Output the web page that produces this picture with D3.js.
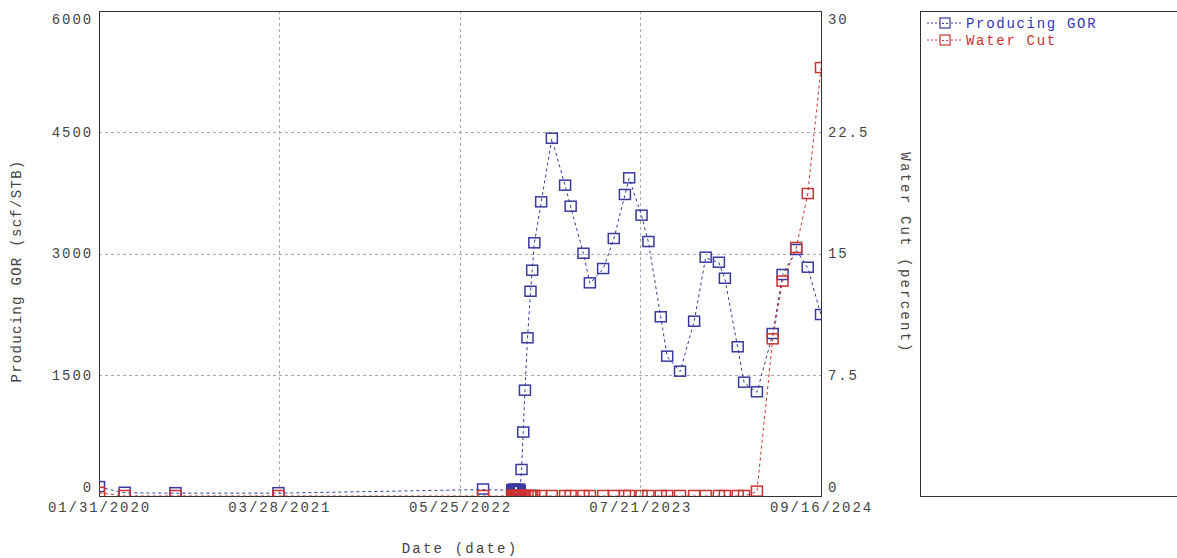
<!DOCTYPE html>
<html>
<head>
<meta charset="utf-8">
<script src="https://cdn.jsdelivr.net/npm/d3@7"></script>
<style>
  body { margin: 0; background: #fff; }
  text { font-family: "Liberation Mono", "Courier New", monospace; }
</style>
</head>
<body>
<div id="chart"></div>
<script>
// dates shared by both series
const dates = [
  "2020-01-31", "2020-03-31", "2020-07-28", "2021-03-26", "2022-07-18",
  "2022-09-24", "2022-09-26", "2022-09-28", "2022-09-30", "2022-10-02",
  "2022-10-04", "2022-10-06", "2022-10-08", "2022-10-10", "2022-10-12",
  "2022-10-16", "2022-10-20", "2022-10-24", "2022-10-30", "2022-11-06",
  "2022-11-10", "2022-11-15", "2022-12-01", "2022-12-26", "2023-01-26",
  "2023-02-08", "2023-03-10", "2023-03-25", "2023-04-25", "2023-05-20",
  "2023-06-15", "2023-06-25", "2023-07-24", "2023-08-09", "2023-09-07",
  "2023-09-22", "2023-10-22", "2023-11-24", "2023-12-21", "2024-01-21",
  "2024-02-04", "2024-03-05", "2024-03-20", "2024-04-19", "2024-05-26",
  "2024-06-18", "2024-07-20", "2024-08-16", "2024-09-16"
];
// producing GOR, scf/STB
const gor = [
  110, 40, 35, 35, 80,
  70, 55, 80, 60, 75, 50, 70, 60, 80, 65,
  322, 785, 1303, 1951, 2527,
  2787, 3126, 3633, 4420, 3839,
  3579, 2997, 2631, 2808, 3179,
  3724, 3930, 3468, 3142, 2211,
  1724, 1538, 2156, 2948, 2886,
  2688, 1840, 1402, 1283, 2004,
  2734, 3043, 2824, 2239
];
// water cut, percent
const waterCut = [
  0.2, 0, 0, 0, 0,
  0, 0, 0, 0, 0, 0, 0, 0, 0, 0,
  0, 0, 0, 0, 0,
  0, 0, 0, 0, 0,
  0, 0, 0, 0, 0,
  0, 0, 0, 0, 0,
  0, 0, 0, 0, 0,
  0, 0, 0, 0.27, 9.69,
  13.26, 15.34, 18.68, 26.47
];
const xTickLabels = ["01/31/2020", "03/28/2021", "05/25/2022", "07/21/2023", "09/16/2024"];
const leftTicks = [0, 1500, 3000, 4500, 6000];
const rightTicks = [0, 7.5, 15, 22.5, 30];
const seriesNames = ["Producing GOR", "Water Cut"];
const colors = ["#3a3a9e", "#cc3333"];
const textColors = ["#3535b5", "#cc3333"];

const width = 1177, height = 558;
const plot = { left: 99, right: 821, top: 11, bottom: 496 };

const parseDay = d3.timeParse("%Y-%m-%d");
const parseTick = d3.timeParse("%m/%d/%Y");

const svg = d3.select("#chart").append("svg")
    .attr("width", width)
    .attr("height", height);

const x = d3.scaleTime()
    .domain([parseTick(xTickLabels[0]), parseTick(xTickLabels[xTickLabels.length - 1])])
    .range([plot.left, plot.right]);
const yL = d3.scaleLinear().domain([0, 6000]).range([plot.bottom, plot.top]);
const yR = d3.scaleLinear().domain([0, 30]).range([plot.bottom, plot.top]);

svg.append("clipPath").attr("id", "clip")
  .append("rect")
    .attr("x", plot.left).attr("y", plot.top)
    .attr("width", plot.right - plot.left).attr("height", plot.bottom - plot.top);

// grid
const grid = svg.append("g")
    .attr("stroke", "#a8a8a8")
    .attr("stroke-dasharray", "3,3")
    .attr("stroke-width", 1);
xTickLabels.slice(1, -1).forEach(function(t) {
  const px = Math.round(x(parseTick(t))) + 0.5;
  grid.append("line").attr("x1", px).attr("x2", px).attr("y1", plot.top).attr("y2", plot.bottom);
});
leftTicks.slice(1, -1).forEach(function(t) {
  const py = Math.round(yL(t)) + 0.5;
  grid.append("line").attr("x1", plot.left).attr("x2", plot.right).attr("y1", py).attr("y2", py);
});

// axes
const axisStyle = function(g) {
  g.select(".domain").remove();
  g.selectAll("text")
    .attr("fill", "#444")
    .style("font-size", "14px")
    .style("letter-spacing", "1.9px");
};
svg.append("g")
    .attr("transform", `translate(${plot.left},0)`)
    .call(d3.axisLeft(yL).tickValues(leftTicks).tickSize(0).tickPadding(6).tickFormat(d3.format("d")))
    .call(axisStyle)
    .selectAll("text")
    .attr("dy", function(d) { return d === 6000 ? "0.9em" : d === 0 ? "-0.3em" : "0.32em"; });

svg.append("g")
    .attr("transform", `translate(${plot.right},0)`)
    .call(d3.axisRight(yR).tickValues(rightTicks).tickSize(0).tickPadding(7).tickFormat(function(d) { return String(d); }))
    .call(axisStyle)
    .selectAll("text")
    .attr("dy", function(d) { return d === 30 ? "0.9em" : d === 0 ? "-0.3em" : "0.32em"; });

svg.append("g")
    .attr("transform", `translate(0,${plot.bottom})`)
    .call(d3.axisBottom(x).tickValues(xTickLabels.map(parseTick)).tickSize(0).tickPadding(6).tickFormat(d3.timeFormat("%m/%d/%Y")))
    .call(axisStyle);

// frame
svg.append("rect")
    .attr("x", plot.left + 0.5).attr("y", plot.top + 0.5)
    .attr("width", plot.right - plot.left).attr("height", plot.bottom - plot.top)
    .attr("fill", "none").attr("stroke", "#333");

// axis titles
svg.append("text")
    .attr("transform", `translate(21,271) rotate(-90)`)
    .attr("text-anchor", "middle")
    .attr("fill", "#444")
    .style("font-size", "14px").style("letter-spacing", "1.3px")
    .text("Producing GOR (scf/STB)");
svg.append("text")
    .attr("transform", `translate(901,253) rotate(90)`)
    .attr("text-anchor", "middle")
    .attr("fill", "#444")
    .style("font-size", "14px").style("letter-spacing", "2.2px")
    .text("Water Cut (percent)");
svg.append("text")
    .attr("x", 460).attr("y", 553)
    .attr("text-anchor", "middle")
    .attr("fill", "#444")
    .style("font-size", "14px").style("letter-spacing", "2.2px")
    .text("Date (date)");

// series
const series = [
  { name: seriesNames[0], values: gor, y: yL, color: colors[0] },
  { name: seriesNames[1], values: waterCut, y: yR, color: colors[1] }
];
const area = svg.append("g").attr("clip-path", "url(#clip)");
const box = 11;

series.forEach(function(s) {
  const pts = dates.map(function(d, i) { return { date: parseDay(d), v: s.values[i] }; });
  const line = d3.line()
      .x(function(d) { return x(d.date); })
      .y(function(d) { return s.y(d.v); });
  area.append("path")
      .datum(pts)
      .attr("d", line)
      .attr("fill", "none")
      .attr("stroke", s.color)
      .attr("stroke-width", 1)
      .attr("stroke-dasharray", "3,3");
  area.selectAll(null)
      .data(pts)
      .enter().append("rect")
      .attr("x", function(d) { return x(d.date) - box / 2; })
      .attr("y", function(d) { return s.y(d.v) - box / 2; })
      .attr("width", box)
      .attr("height", box - 1)
      .attr("fill", "none")
      .attr("stroke", s.color)
      .attr("stroke-width", 1.5);
});

// legend
svg.append("rect")
    .attr("x", 920.5).attr("y", 11.5)
    .attr("width", 270).attr("height", 485)
    .attr("fill", "none").attr("stroke", "#333");

series.forEach(function(s, i) {
  const ly = 23 + i * 17;
  const g = svg.append("g");
  g.append("line")
      .attr("x1", 927).attr("x2", 962).attr("y1", ly).attr("y2", ly)
      .attr("stroke", s.color).attr("stroke-dasharray", "2,2");
  g.append("rect")
      .attr("x", 940).attr("y", ly - 5).attr("width", 10).attr("height", 10)
      .attr("fill", "#fff").attr("stroke", s.color).attr("stroke-width", 1.2);
  g.append("line")
      .attr("x1", 942).attr("x2", 948).attr("y1", ly + 0.5).attr("y2", ly + 0.5)
      .attr("stroke", s.color).attr("stroke-dasharray", "2,2");
  g.append("text")
      .attr("x", 966).attr("y", ly)
      .attr("dy", "0.35em")
      .attr("fill", textColors[i])
      .style("font-size", "14px").style("letter-spacing", "1.7px")
      .text(s.name);
});
</script>
</body>
</html>
